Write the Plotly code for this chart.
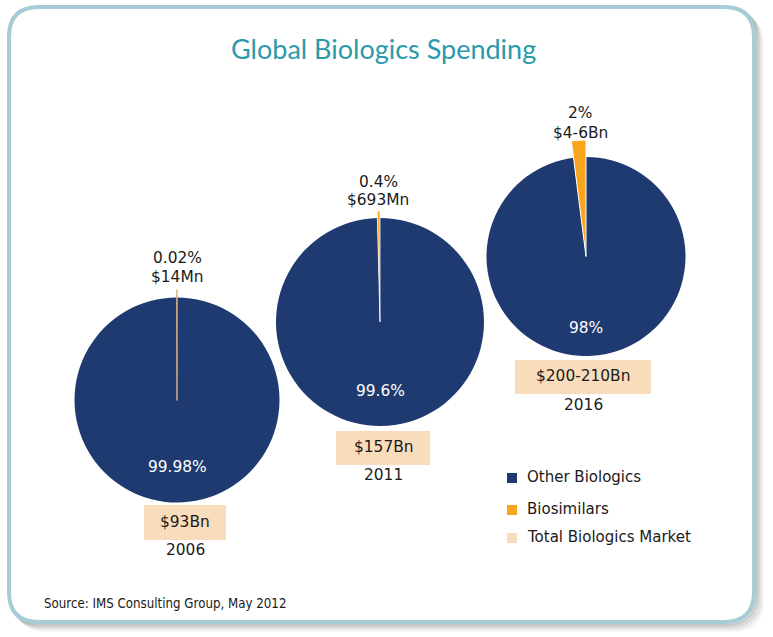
import plotly.graph_objects as go

# ---------------- data ----------------
years = ["2006", "2011", "2016"]
other_pct = [99.98, 99.6, 98.0]
bio_pct = [0.02, 0.4, 2.0]
other_labels = ["99.98%", "99.6%", "98%"]
bio_pct_labels = ["0.02%", "0.4%", "2%"]
bio_value_labels = ["$14Mn", "$693Mn", "$4-6Bn"]
total_labels = ["$93Bn", "$157Bn", "$200-210Bn"]
legend_names = ["Other Biologics", "Biosimilars", "Total Biologics Market"]
title_text = "Global Biologics Spending"
source_text = "Source: IMS Consulting Group, May 2012"

# ---------------- style / layout ----------------
W, H = 773, 637
NAVY = "#1f3a70"
ORANGE = "#f9a61e"
PEACH = "#f8dcbc"
TEAL = "#2a9aab"
TXT = "#1a1a1a"
FONT = "DejaVu Sans"

centers = [(177, 400), (380, 322), (586, 256.5)]
radii = [102.5, 104, 99.5]
outer_radii = [110, 111, 116.5]
bio_line = [("#e2b27c", 1.4), ("white", 0.8), ("white", 1.0)]
bio_fill = ["#e2b27c", ORANGE, ORANGE]
boxes = [(144, 505, 226, 540), (336, 431, 430, 465), (515, 360, 651, 394)]
year_y = [550, 475, 405]
other_label_y = [467, 391, 328]
bio_label_y = [(258, 277), (182, 200), (113, 133)]
bio_label_x = [177, 378, 580]
LBL = 15.4


def domain(cx, cy, r):
    return dict(x=[(cx - r) / W, (cx + r) / W], y=[(H - cy - r) / H, (H - cy + r) / H])


fig = go.Figure()

for i in range(len(years)):
    cx, cy = centers[i]
    # main pie (other biologics)
    fig.add_trace(go.Pie(
        values=[other_pct[i], bio_pct[i]],
        labels=[legend_names[0], legend_names[1]],
        sort=False, direction="clockwise", rotation=0,
        marker=dict(colors=[NAVY, "rgba(0,0,0,0)"],
                    line=dict(color=[NAVY, "rgba(0,0,0,0)"], width=[0, 0])),
        textinfo="none", hoverinfo="label+percent", showlegend=False,
        domain=domain(cx, cy, radii[i]),
    ))
    # enlarged biosimilar slice
    lc, lw = bio_line[i]
    fig.add_trace(go.Pie(
        values=[other_pct[i], bio_pct[i]],
        labels=[legend_names[0], legend_names[1]],
        sort=False, direction="clockwise", rotation=0,
        marker=dict(colors=["rgba(0,0,0,0)", bio_fill[i]],
                    line=dict(color=["rgba(0,0,0,0)", lc], width=[0, lw])),
        textinfo="none", hoverinfo="label+percent", showlegend=False,
        domain=domain(cx, cy, outer_radii[i]),
    ))

shapes = []
# frame with shadow
x0, y0, x1, y1, R = 9, 7, 754, 622, 30


def rrect(ox, oy):
    a0, b0, a1, b1 = x0 + ox, y0 + oy, x1 + ox, y1 + oy
    return (f"M {a0+R},{b0} L {a1-R},{b0} Q {a1},{b0} {a1},{b0+R} "
            f"L {a1},{b1-R} Q {a1},{b1} {a1-R},{b1} L {a0+R},{b1} "
            f"Q {a0},{b1} {a0},{b1-R} L {a0},{b0+R} Q {a0},{b0} {a0+R},{b0} Z")


for off, op in [(8, 0.06), (6, 0.10), (4, 0.16), (2, 0.22)]:
    shapes.append(dict(type="path", path=rrect(off, off), xref="x", yref="y",
                       line=dict(color=f"rgba(90,90,90,{op})", width=4), layer="below"))
shapes.append(dict(type="path", path=rrect(0, 0), xref="x", yref="y",
                   fillcolor="white", line=dict(color="#a6cdd6", width=4), layer="below"))

annotations = []
for i in range(len(years)):
    bx0, by0, bx1, by1 = boxes[i]
    shapes.append(dict(type="rect", x0=bx0, y0=by0, x1=bx1, y1=by1, xref="x", yref="y",
                       fillcolor=PEACH, line=dict(width=0), layer="above"))
    annotations.append(dict(x=(bx0 + bx1) / 2, y=(by0 + by1) / 2 - 1, text=total_labels[i],
                            showarrow=False, font=dict(family=FONT, size=LBL, color=TXT)))
    annotations.append(dict(x=(bx0 + bx1) / 2, y=year_y[i], text=years[i], showarrow=False,
                            font=dict(family=FONT, size=LBL, color=TXT)))
    annotations.append(dict(x=centers[i][0], y=other_label_y[i], text=other_labels[i],
                            showarrow=False, font=dict(family=FONT, size=LBL, color="white")))
    annotations.append(dict(x=bio_label_x[i], y=bio_label_y[i][0], text=bio_pct_labels[i],
                            showarrow=False, font=dict(family=FONT, size=LBL, color=TXT)))
    annotations.append(dict(x=bio_label_x[i], y=bio_label_y[i][1], text=bio_value_labels[i],
                            showarrow=False, font=dict(family=FONT, size=LBL, color=TXT)))

# legend
leg_colors = [NAVY, ORANGE, PEACH]
leg_y = [478, 510, 538]
for name, col, ly in zip(legend_names, leg_colors, leg_y):
    shapes.append(dict(type="rect", x0=507, x1=517, y0=ly - 5, y1=ly + 5, xref="x", yref="y",
                       fillcolor=col, line=dict(width=0), layer="above"))
    annotations.append(dict(x=525, y=ly - 1, text=name, xanchor="left", showarrow=False,
                            font=dict(family=FONT, size=15, color=TXT)))

annotations.append(dict(x=383, y=48, text=title_text, showarrow=False,
                        font=dict(family="Lato", size=27, color=TEAL)))
annotations.append(dict(x=42, y=603, text=source_text, xanchor="left", showarrow=False,
                        font=dict(family="DejaVu Sans Condensed", size=13.2, color=TXT)))

fig.update_layout(
    width=W, height=H, margin=dict(l=0, r=0, t=0, b=0),
    paper_bgcolor="white", plot_bgcolor="rgba(0,0,0,0)",
    xaxis=dict(range=[0, W], visible=False, fixedrange=True),
    yaxis=dict(range=[H, 0], visible=False, fixedrange=True),
    shapes=shapes, annotations=annotations, showlegend=False,
)

fig.write_html("out.html", config={"displayModeBar": False},
               post_script="document.body.style.margin='0px';document.body.style.overflow='hidden';")
